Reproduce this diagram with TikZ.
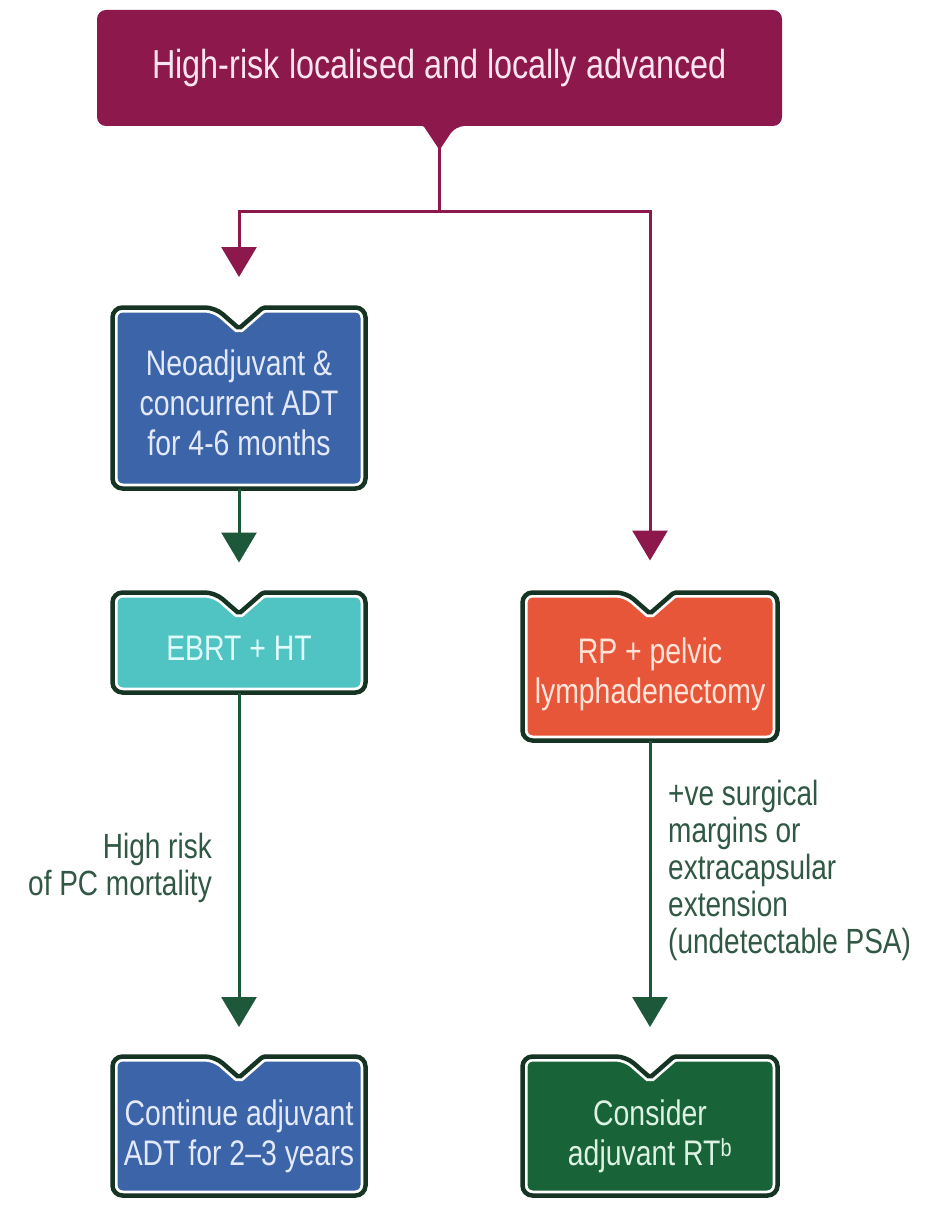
\documentclass[tikz,border=0pt]{standalone}
\usepackage{fontspec}
\setmainfont{Liberation Sans}[FakeStretch=0.8]
\usetikzlibrary{arrows.meta,backgrounds,calc}
\definecolor{maroon}{RGB}{140,24,76}
\definecolor{bluefill}{RGB}{60,100,168}
\definecolor{tealfill}{RGB}{80,195,195}
\definecolor{orangefill}{RGB}{232,86,58}
\definecolor{greenfill}{RGB}{24,100,56}
\definecolor{edge}{RGB}{22,52,36}
\definecolor{arrowgreen}{RGB}{30,88,58}
\definecolor{lbltext}{RGB}{48,88,68}
\newcommand\notchpath[1]{(#1.west) [rounded corners=10pt] -- (#1.north west) -- ([xshift=-24pt]#1.north) [rounded corners=2pt] -- ([yshift=-21pt]#1.north) -- ([xshift=24pt]#1.north) [rounded corners=10pt] -- (#1.north east) -- (#1.south east) -- (#1.south west) -- cycle}
\newcommand\notchbox[2]{%
  \fill[#2] \notchpath{#1};
  \begin{scope}
    \clip \notchpath{#1};
    \draw[white, line width=10pt] \notchpath{#1};
  \end{scope}
  \draw[edge, line width=4.5pt] \notchpath{#1};}
\tikzset{
  geo/.style={inner sep=0pt, outer sep=0pt, draw=none},
  btext/.style={align=center, font=\fontsize{35.5}{40}\selectfont, inner sep=0pt},
  lbl/.style={text=lbltext, font=\fontsize{35}{37}\selectfont, inner sep=0pt},
  mline/.style={draw=maroon, line width=3pt},
  gline/.style={draw=arrowgreen, line width=3pt},
  arrowtip/.style={-{Triangle[width=35pt,length=30pt]}},
}
\begin{document}
\begin{tikzpicture}[x=1pt,y=-1pt]
\useasboundingbox (0,0) rectangle (932,1206);
% nodes
\node[geo, minimum width=685pt, minimum height=116pt, text={rgb,255:red,252;green,228;blue,240},
      font=\fontsize{40.5}{44}\selectfont] (top) at (439.5,68) {High-risk localised and locally advanced};
\node[geo, minimum width=253pt, minimum height=181pt] (b1) at (239,398) {};
\node[geo, minimum width=253pt, minimum height=100pt] (b2) at (239,642.5) {};
\node[geo, minimum width=255pt, minimum height=148pt] (b3) at (650,666.5) {};
\node[geo, minimum width=253pt, minimum height=139pt] (b4) at (239,1126) {};
\node[geo, minimum width=255pt, minimum height=139pt] (b5) at (650,1126) {};
\coordinate (j) at (top.south |- 0,212);
% background and top box
\begin{scope}[on background layer]
  \fill[white] (0,0) rectangle (932,1206);
  \fill[maroon, rounded corners=9pt] (top.west) -- (top.north west) -- (top.north east) -- (top.south east) -- ([xshift=16pt]top.south) [rounded corners=1pt] -- ([yshift=-24pt]top.south) -- ([xshift=-16pt]top.south) [rounded corners=9pt] -- (top.south west) -- cycle;
\end{scope}
\notchbox{b1}{bluefill}
\notchbox{b2}{tealfill}
\notchbox{b3}{orangefill}
\notchbox{b4}{bluefill}
\notchbox{b5}{greenfill}
% box texts
\node[btext, text={rgb,255:red,228;green,233;blue,250}] (b1t) at ([yshift=-5pt]b1.center) {Neoadjuvant \&\\concurrent ADT\\for 4-6 months};
\node[btext, text={rgb,255:red,225;green,250;blue,250}] (b2t) at ([yshift=-6pt]b2.center) {EBRT + HT};
\node[btext, text={rgb,255:red,255;green,228;blue,218}] (b3t) at ([yshift=-8pt]b3.center) {RP + pelvic\\lymphadenectomy};
\node[btext, text={rgb,255:red,228;green,233;blue,250}] (b4t) at ([yshift=-10pt]b4.center) {Continue adjuvant\\ADT for 2–3 years};
\node[btext, text={rgb,255:red,222;green,242;blue,228}] (b5t) at ([yshift=-10pt]b5.center) {Consider\\adjuvant RT\textsuperscript{b}};
% labels
\node[lbl, align=right, anchor=east] (l1) at (212,868) {High risk\\of PC mortality};
\node[lbl, align=left, anchor=west] (l2) at (668,870) {+ve surgical\\margins or\\extracapsular\\extension\\(undetectable PSA)};
% connectors
\draw[mline] (top.south) -- (j);
\draw[mline, arrowtip, shorten >=30.5pt] (j) -| (b1.north);
\draw[mline, arrowtip, shorten >=32pt] (j) -| (b3.north);
\draw[gline, arrowtip, shorten >=30pt] (b1.south) -- (b2.north);
\draw[gline, arrowtip, shorten >=29.5pt] (b2.south) -- (b4.north);
\draw[gline, arrowtip, shorten >=29.5pt] (b3.south) -- (b5.north);
\end{tikzpicture}
\end{document}
